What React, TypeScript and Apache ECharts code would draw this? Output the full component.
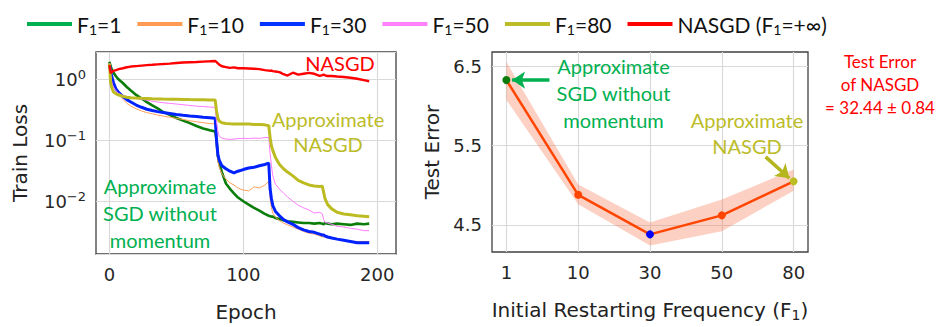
import React, { useEffect, useRef } from 'react';
import * as echarts from 'echarts';

// ---------- Left panel: train loss vs epoch ----------
const epochs = [0, 1, 2, 3, 5, 7, 10, 13, 16, 20, 24, 28, 32, 36, 40, 45, 50, 55, 60, 65, 70, 75, 79, 80, 81, 82, 84, 87, 90, 93, 96, 100, 104, 108, 112, 116, 119, 120, 121, 122, 124, 127, 130, 133, 137, 141, 145, 149, 153, 157, 159, 160, 161, 163, 166, 170, 175, 180, 185, 190, 194];

const lossF1_1 = [1.92, 1.6, 1.4, 1.28, 1.1, 0.98, 0.86, 0.74, 0.65, 0.55, 0.48, 0.42, 0.37, 0.33, 0.29, 0.26, 0.23, 0.21, 0.19, 0.17, 0.155, 0.145, 0.138, 0.1, 0.055, 0.042, 0.03, 0.0195, 0.016, 0.0135, 0.0115, 0.01, 0.0088, 0.0078, 0.007, 0.0062, 0.0058, 0.0057, 0.0056, 0.0056, 0.0053, 0.0051, 0.0049, 0.0047, 0.0046, 0.0045, 0.0044, 0.0044, 0.0043, 0.0044, 0.0043, 0.0042, 0.0044, 0.0043, 0.0042, 0.0043, 0.0042, 0.0041, 0.0043, 0.0042, 0.0043];

const lossF1_10 = [1.8, 1.3, 1.02, 0.85, 0.67, 0.56, 0.47, 0.4, 0.36, 0.325, 0.3, 0.283, 0.27, 0.258, 0.248, 0.237, 0.227, 0.218, 0.208, 0.2, 0.193, 0.187, 0.184, 0.075, 0.045, 0.036, 0.028, 0.023, 0.02, 0.0185, 0.0165, 0.0152, 0.0148, 0.0172, 0.0165, 0.0183, 0.0212, 0.011, 0.0078, 0.0064, 0.0055, 0.0048, 0.0044, 0.0041, 0.0038, 0.0035, 0.0032, 0.003, 0.0029, 0.0027, 0.0026, 0.0026, 0.0026, 0.0025, 0.0025, 0.0024, 0.0023, 0.0022, 0.0022, 0.0022, 0.0022];

const lossF1_30 = [1.8, 1.3, 1.05, 0.88, 0.68, 0.6, 0.52, 0.46, 0.42, 0.375, 0.345, 0.32, 0.305, 0.293, 0.283, 0.273, 0.263, 0.255, 0.248, 0.243, 0.237, 0.232, 0.228, 0.1, 0.058, 0.047, 0.038, 0.034, 0.031, 0.029, 0.031, 0.033, 0.035, 0.036, 0.038, 0.04, 0.042, 0.016, 0.011, 0.0085, 0.0068, 0.0058, 0.005, 0.0046, 0.0042, 0.0037, 0.0034, 0.0032, 0.0031, 0.0029, 0.0028, 0.0028, 0.0027, 0.0026, 0.0025, 0.0024, 0.0023, 0.0022, 0.0021, 0.0021, 0.0021];

const lossF1_50 = [1.8, 1.15, 0.85, 0.74, 0.64, 0.58, 0.54, 0.52, 0.5, 0.48, 0.465, 0.45, 0.435, 0.42, 0.41, 0.4, 0.39, 0.38, 0.37, 0.36, 0.355, 0.348, 0.344, 0.2, 0.14, 0.115, 0.108, 0.104, 0.103, 0.104, 0.106, 0.107, 0.106, 0.108, 0.107, 0.11, 0.111, 0.06, 0.038, 0.026, 0.019, 0.0158, 0.0135, 0.0118, 0.01, 0.0086, 0.0078, 0.0072, 0.0064, 0.0066, 0.0062, 0.005, 0.0045, 0.0044, 0.0042, 0.0039, 0.0038, 0.0036, 0.0035, 0.0033, 0.0033];

const lossF1_80 = [1.8, 0.85, 0.7, 0.62, 0.57, 0.548, 0.52, 0.505, 0.495, 0.488, 0.483, 0.48, 0.476, 0.473, 0.47, 0.468, 0.466, 0.464, 0.461, 0.459, 0.457, 0.455, 0.454, 0.3, 0.23, 0.205, 0.192, 0.187, 0.185, 0.184, 0.184, 0.183, 0.183, 0.181, 0.18, 0.178, 0.172, 0.11, 0.08, 0.068, 0.052, 0.04, 0.034, 0.03, 0.026, 0.022, 0.02, 0.0185, 0.0178, 0.0175, 0.0176, 0.014, 0.011, 0.0088, 0.0075, 0.0066, 0.0062, 0.006, 0.0058, 0.0057, 0.0056];

const lossNASGD = [1.7, 1.25, 1.32, 1.36, 1.4, 1.45, 1.5, 1.56, 1.6, 1.63, 1.66, 1.69, 1.71, 1.74, 1.76, 1.79, 1.83, 1.86, 1.88, 1.9, 1.93, 1.95, 1.97, 1.9, 1.8, 1.72, 1.62, 1.57, 1.52, 1.55, 1.5, 1.5, 1.49, 1.47, 1.45, 1.4, 1.37, 1.36, 1.38, 1.35, 1.33, 1.3, 1.2, 1.14, 1.27, 1.18, 1.22, 1.26, 1.22, 1.13, 1.16, 1.18, 1.15, 1.12, 1.12, 1.1, 1.08, 1.05, 1.01, 0.96, 0.92];

const seriesNames = ['F1=1', 'F1=10', 'F1=30', 'F1=50', 'F1=80', 'NASGD (F1=+∞)'];
const lossSeries = [lossF1_1, lossF1_10, lossF1_30, lossF1_50, lossF1_80, lossNASGD];
const lineColors = ['#0a7d0a', '#ffa05c', '#0022ff', '#ff7cff', '#bcbc22', '#ff0000'];
const legendColors = ['#00b050', '#ff9a55', '#0033ff', '#ff80ff', '#bcbc28', '#ff0000'];
const lineWidths = [2.6, 1, 3, 1, 3, 2.4];

// ---------- Right panel: test error vs initial restarting frequency ----------
const freqLabels = ['1', '10', '30', '50', '80'];
const freqIndex = [0, 1, 2, 3, 4];
const testErrMean = [6.33, 4.88, 4.38, 4.62, 5.05];
const testErrUpper = [6.56, 5.01, 4.53, 4.82, 5.2];
const testErrLower = [6.08, 4.76, 4.24, 4.42, 4.93];
const markerColors = ['#0b7a0b', '#ff4500', '#0000ff', '#ff4500', '#bcbd22'];

const TICK = '#262626';
const GRIDLINE = '#d9d9d9';
const FRAME = '#404040';
const LATO = 'Lato';
const DEJAVU = 'DejaVu Sans';

export default function App() {
  const ref = useRef<HTMLDivElement>(null);

  useEffect(() => {
    if (!ref.current) return;
    const chart = echarts.init(ref.current, undefined, { renderer: 'svg' });

    const leftSeries = lossSeries.map((arr, k) => ({
      type: 'line',
      name: seriesNames[k],
      xAxisIndex: 0,
      yAxisIndex: 0,
      data: epochs.map((e, i) => [e, arr[i]]),
      showSymbol: false,
      symbol: 'none',
      color: lineColors[k],
      lineStyle: { width: lineWidths[k], color: lineColors[k] },
      z: 2 + k,
    }));

    const option: any = {
      animation: false,
      backgroundColor: '#ffffff',
      legend: {
        data: seriesNames.map((n, k) => ({
          name: n,
          itemStyle: { color: legendColors[k] },
          lineStyle: { color: legendColors[k] },
        })),
        left: 22,
        top: 7,
        icon: 'rect',
        itemWidth: 45,
        itemHeight: 4,
        itemGap: 16,
        formatter: (name: string) => name.replace(/F1/g, 'F{sub|1}'),
        textStyle: {
          fontFamily: LATO,
          fontSize: 21,
          color: '#111',
          lineHeight: 24,
          rich: {
            sub: { fontFamily: LATO, fontSize: 14, lineHeight: 14, verticalAlign: 'bottom', color: '#111' },
          },
        },
      },
      grid: [
        { left: 96, top: 52, width: 300, height: 202, show: true, borderColor: FRAME, borderWidth: 1.3, backgroundColor: 'transparent' },
        { left: 492, top: 52, width: 316, height: 201, show: true, borderColor: FRAME, borderWidth: 1.3, backgroundColor: 'transparent' },
      ],
      xAxis: [
        {
          type: 'value',
          gridIndex: 0,
          min: -10,
          max: 214,
          axisLine: { show: false },
          axisTick: { show: false, customValues: [0, 100, 200] },
          axisLabel: {
            customValues: [0, 100, 200],
            fontFamily: DEJAVU, fontSize: 18, color: TICK, margin: 11,
          },
          splitLine: { show: true, lineStyle: { color: GRIDLINE, width: 1.2 } },
          name: 'Epoch',
          nameLocation: 'middle',
          nameGap: 48,
          nameTextStyle: { fontFamily: DEJAVU, fontSize: 20, color: '#222' },
        },
        {
          type: 'value',
          gridIndex: 1,
          min: -0.2,
          max: 4.2,
          axisLine: { show: false },
          axisTick: { show: false, customValues: freqIndex },
          axisLabel: {
            customValues: freqIndex,
            formatter: (v: number) => freqLabels[Math.round(v)] ?? '',
            fontFamily: DEJAVU, fontSize: 18, color: TICK, margin: 11,
          },
          splitLine: { show: true, lineStyle: { color: GRIDLINE, width: 1.2 } },
          name: 'Initial Restarting Frequency (F{sub|1})',
          nameLocation: 'middle',
          nameGap: 46,
          nameTextStyle: {
            fontFamily: DEJAVU, fontSize: 20, color: '#222', lineHeight: 24,
            rich: { sub: { fontFamily: DEJAVU, fontSize: 14, lineHeight: 14, verticalAlign: 'bottom', color: '#222' } },
          },
        },
      ],
      yAxis: [
        {
          type: 'log',
          logBase: 10,
          gridIndex: 0,
          min: 0.00137,
          max: 2.77,
          axisLine: { show: false },
          axisTick: { show: false },
          axisLabel: {
            fontFamily: DEJAVU, fontSize: 18, color: TICK, margin: 10, lineHeight: 22,
            formatter: (v: number) => {
              const l = Math.log10(v);
              const r = Math.round(l);
              if (Math.abs(l - r) > 1e-6) return '';
              return r === 0 ? '10{sup|0}' : `10{sup|\u2212${-r}}`;
            },
            rich: { sup: { fontFamily: DEJAVU, fontSize: 13, lineHeight: 9, verticalAlign: 'top', color: TICK } },
          },
          splitLine: { show: true, lineStyle: { color: GRIDLINE, width: 1.2 } },
          name: 'Train Loss',
          nameLocation: 'middle',
          nameGap: 66,
          nameTextStyle: { fontFamily: DEJAVU, fontSize: 20, color: '#222' },
        },
        {
          type: 'value',
          gridIndex: 1,
          min: 4.157,
          max: 6.685,
          axisLine: { show: false },
          axisTick: { show: false, customValues: [4.5, 5.5, 6.5] },
          axisLabel: {
            customValues: [4.5, 5.5, 6.5],
            formatter: (v: number) => v.toFixed(1),
            fontFamily: DEJAVU, fontSize: 18, color: TICK, margin: 10,
          },
          splitLine: { show: true, lineStyle: { color: GRIDLINE, width: 1.2 } },
          name: 'Test Error',
          nameLocation: 'middle',
          nameGap: 50,
          nameTextStyle: { fontFamily: DEJAVU, fontSize: 20, color: '#222' },
        },
      ],
      series: [
        ...leftSeries,
        {
          type: 'custom',
          name: 'band',
          xAxisIndex: 1,
          yAxisIndex: 1,
          silent: true,
          z: 2,
          data: freqIndex.map((x, i) => [x, testErrLower[i], testErrUpper[i]]),
          encode: { x: 0, y: [1, 2] },
          renderItem: (params: any, api: any) => {
            if (params.dataIndex !== 0) return null;
            const top = freqIndex.map((x, i) => api.coord([x, testErrUpper[i]]));
            const bottom = freqIndex.map((x, i) => api.coord([x, testErrLower[i]])).reverse();
            return {
              type: 'polygon',
              shape: { points: top.concat(bottom) },
              style: { fill: 'rgba(245,120,80,0.35)', stroke: 'none' },
            };
          },
        },
        {
          type: 'line',
          name: 'test-error',
          xAxisIndex: 1,
          yAxisIndex: 1,
          data: freqIndex.map((x, i) => ({ value: [x, testErrMean[i]], itemStyle: { color: markerColors[i] } })),
          symbol: 'circle',
          symbolSize: 8,
          showSymbol: true,
          lineStyle: { color: '#ff4500', width: 2.5 },
          itemStyle: { color: '#ff4500', borderWidth: 0 },
          z: 5,
          markLine: {
            silent: true,
            symbol: ['none', 'arrow'],
            symbolSize: 13,
            label: { show: false },
            data: [
              [
                { coord: [0.6, 6.33], lineStyle: { color: '#00b050', width: 3.5, type: 'solid' }, itemStyle: { color: '#00b050' } },
                { coord: [0.08, 6.33] },
              ],
              [
                { coord: [3.61, 5.36], lineStyle: { color: '#b5b51e', width: 3.5, type: 'solid' }, itemStyle: { color: '#b5b51e' } },
                { coord: [3.94, 5.09] },
              ],
            ],
          },
        },
      ],
      graphic: [
        { type: 'text', x: 340, y: 63, z: 100, style: { text: 'NASGD', fill: '#ff0000', fontFamily: LATO, fontSize: 20, align: 'center', verticalAlign: 'middle' } },
        { type: 'text', x: 328, y: 131.5, z: 100, style: { text: 'Approximate\nNASGD', fill: '#bcbc28', fontFamily: LATO, fontSize: 20, lineHeight: 25, align: 'center', verticalAlign: 'middle' } },
        { type: 'text', x: 160, y: 213, z: 100, style: { text: 'Approximate\nSGD without\nmomentum', fill: '#00b050', fontFamily: LATO, fontSize: 20, lineHeight: 27, align: 'center', verticalAlign: 'middle' } },
        { type: 'text', x: 613.5, y: 93, z: 100, style: { text: 'Approximate\nSGD without\nmomentum', fill: '#00b050', fontFamily: LATO, fontSize: 20, lineHeight: 27, align: 'center', verticalAlign: 'middle' } },
        { type: 'text', x: 747, y: 133.3, z: 100, style: { text: 'Approximate\nNASGD', fill: '#bcbc28', fontFamily: LATO, fontSize: 20, lineHeight: 26, align: 'center', verticalAlign: 'middle' } },
        { type: 'text', x: 880, y: 84, z: 100, style: { text: 'Test Error\nof NASGD\n= 32.44 ± 0.84', fill: '#ff0000', fontFamily: LATO, fontSize: 17, lineHeight: 23, align: 'center', verticalAlign: 'middle' } },
      ],
    };

    chart.setOption(option);
    return () => chart.dispose();
  }, []);

  return (
    <div
      ref={ref}
      style={{ position: 'absolute', left: 0, top: 0, width: 938, height: 327, background: '#fff' }}
    />
  );
}
